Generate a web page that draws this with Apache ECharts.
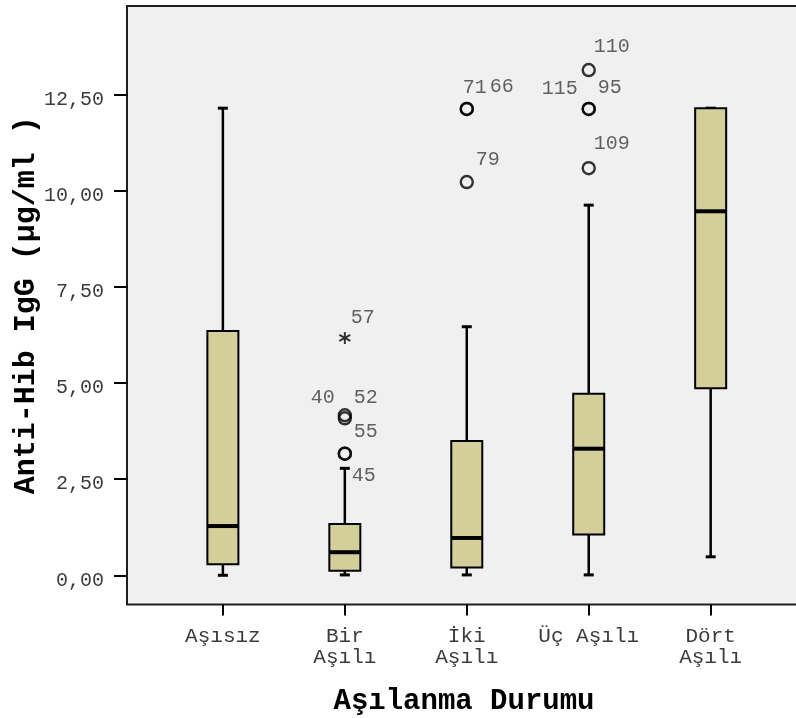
<!DOCTYPE html>
<html><head><meta charset="utf-8">
<script src="https://cdn.jsdelivr.net/npm/echarts@6/dist/echarts.min.js"></script>
<style>html,body{margin:0;padding:0;background:#fff}#c{width:796px;height:718px}</style>
</head><body><div id="c"></div>
<script>
const categories = ['Aşısız', 'Bir\nAşılı', 'İki\nAşılı', 'Üç Aşılı', 'Dört\nAşılı'];
const whiskerLow = [0.00, 0.01, 0.01, 0.01, 0.48];
const q1 = [0.29, 0.12, 0.20, 1.06, 4.86];
const median = [1.28, 0.60, 0.97, 3.29, 9.46];
const q3 = [6.35, 1.33, 3.49, 4.72, 12.14];
const whiskerHigh = [12.14, 2.78, 6.46, 9.62, 12.14];
const outlierCategory = [1, 1, 1, 1, 2, 2, 2, 3, 3, 3, 3];
const outlierValue = [4.16, 4.08, 3.16, 3.16, 12.12, 12.12, 10.22, 13.13, 12.12, 12.12, 10.58];
const outlierId = ['40', '52', '55', '45', '71', '66', '79', '110', '115', '95', '109'];
const extremeCategory = [1];
const extremeValue = [6.17];
const extremeId = ['57'];
const yTicks = [0, 2.5, 5, 7.5, 10, 12.5];

// label placement (style only)
const labelOffset = {'40':[-22,-18],'52':[21,-21],'55':[21,-22],'45':[19,22],'71':[8,-21],'66':[35,-22],
  '79':[21,-22],'110':[23,-23],'115':[-29,-20],'95':[21,-21],'109':[23,-24],'57':[18,-20]};

const FONT = 'Liberation Mono';
const Y_MIN = -0.759, Y_MAX = 14.795;
const TXT = '#3c3c3c';

const chart = echarts.init(document.getElementById('c'), null, {renderer: 'canvas'});

const boxData = categories.map((c, i) => [i, whiskerLow[i], q1[i], median[i], q3[i], whiskerHigh[i]]);

function pointItems(cats, vals, ids) {
  return cats.map((c, i) => ({
    value: [c, vals[i]],
    label: {show: true, formatter: ids[i], position: 'inside', offset: labelOffset[ids[i]],
      fontFamily: FONT, fontSize: 20, color: TXT}
  }));
}

chart.setOption({
  animation: false,
  backgroundColor: '#ffffff',
  grid: [
    {left: 127, right: -5, top: 6, bottom: 113.5, show: true, backgroundColor: '#f0f0f0',
     borderColor: '#1e1e1e', borderWidth: 2, containLabel: false, outerBoundsMode: 'none'},
    {left: 161.9, right: 24.35, top: 6, bottom: 113.5, containLabel: false, outerBoundsMode: 'none'}
  ],
  xAxis: [
    {gridIndex: 0, type: 'value', min: 0, max: 1,
     axisLine: {show: false}, axisTick: {show: false}, axisLabel: {show: false}, splitLine: {show: false},
     name: 'Aşılanma Durumu', nameLocation: 'middle', nameGap: 83, nameMoveOverlap: false,
     nameTextStyle: {fontFamily: FONT, fontSize: 29, fontWeight: 'bold', color: '#000'}},
    {gridIndex: 1, type: 'category', data: categories, boundaryGap: true,
     axisLine: {show: false, onZero: false},
     axisTick: {show: true, alignWithLabel: true, length: 11, interval: 0, lineStyle: {color: '#000', width: 2}},
     axisLabel: {margin: 21, interval: 0, fontFamily: FONT, fontSize: 21, lineHeight: 21, color: TXT},
     splitLine: {show: false}}
  ],
  yAxis: [
    {gridIndex: 0, type: 'value', min: Y_MIN, max: Y_MAX,
     axisLine: {show: false},
     axisTick: {show: true, length: 13, customValues: yTicks, lineStyle: {color: '#000', width: 2}},
     axisLabel: {customValues: yTicks, margin: 23, fontFamily: FONT, fontSize: 20, color: TXT,
       verticalAlign: 'top', lineHeight: 10,
       formatter: v => v.toFixed(2).replace('.', ',')},
     splitLine: {show: false},
     name: 'Anti-Hib IgG (µg/ml )', nameLocation: 'middle', nameGap: 86, nameRotate: 90,
     nameMoveOverlap: false,
     nameTextStyle: {fontFamily: FONT, fontSize: 30, fontWeight: 'bold', color: '#000'}},
    {gridIndex: 1, type: 'value', min: Y_MIN, max: Y_MAX, show: false, splitLine: {show: false}}
  ],
  series: [
    {type: 'custom', xAxisIndex: 1, yAxisIndex: 1, data: boxData,
     encode: {x: 0, y: [1, 2, 3, 4, 5]},
     renderItem: function (params, api) {
       const i = api.value(0);
       const pLow = api.coord([i, api.value(1)]);
       const pQ1 = api.coord([i, api.value(2)]);
       const pMed = api.coord([i, api.value(3)]);
       const pQ3 = api.coord([i, api.value(4)]);
       const pHigh = api.coord([i, api.value(5)]);
       const x = pMed[0], hw = 15.5, cw = 5;
       const ws = {stroke: '#000', lineWidth: 2.5};
       const cs = {stroke: '#000', lineWidth: 3};
       return {type: 'group', children: [
         {type: 'line', shape: {x1: x, y1: pQ1[1], x2: x, y2: pLow[1]}, style: ws},
         {type: 'line', shape: {x1: x, y1: pQ3[1], x2: x, y2: pHigh[1]}, style: ws},
         {type: 'line', shape: {x1: x - cw, y1: pLow[1], x2: x + cw, y2: pLow[1]}, style: cs},
         {type: 'line', shape: {x1: x - cw, y1: pHigh[1], x2: x + cw, y2: pHigh[1]}, style: cs},
         {type: 'rect', shape: {x: x - hw, y: pQ3[1], width: 2 * hw, height: pQ1[1] - pQ3[1]},
          style: {fill: '#d3cf9b', stroke: '#000', lineWidth: 2}},
         {type: 'line', shape: {x1: x - hw, y1: pMed[1], x2: x + hw, y2: pMed[1]},
          style: {stroke: '#000', lineWidth: 4}}
       ]};
     }},
    {type: 'scatter', xAxisIndex: 1, yAxisIndex: 1, symbol: 'circle', symbolSize: 12,
     itemStyle: {color: 'rgba(0,0,0,0)', borderColor: '#000', borderWidth: 2.4},
     data: pointItems(outlierCategory, outlierValue, outlierId)},
    {type: 'scatter', xAxisIndex: 1, yAxisIndex: 1,
     symbol: 'path://M0,-1L0,1M-0.87,-0.5L0.87,0.5M-0.87,0.5L0.87,-0.5', symbolSize: [11, 12],
     itemStyle: {color: 'rgba(0,0,0,0)', borderColor: '#000', borderWidth: 2},
     data: pointItems(extremeCategory, extremeValue, extremeId)}
  ]
});
</script>
</body></html>
